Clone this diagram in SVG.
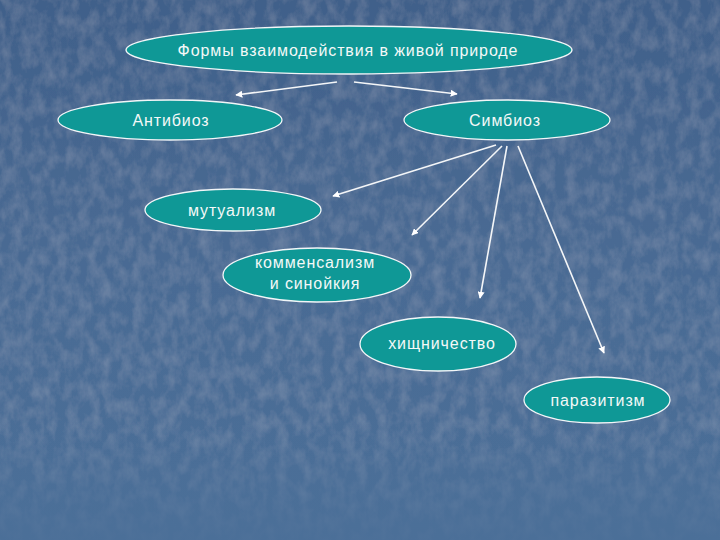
<svg xmlns="http://www.w3.org/2000/svg" width="720" height="540" viewBox="0 0 720 540">
<defs>
<linearGradient id="bg" x1="0" y1="0" x2="0" y2="1">
<stop offset="0" stop-color="#40608a"/>
<stop offset="0.5" stop-color="#4a6b94"/>
<stop offset="1" stop-color="#4b6f98"/>
</linearGradient>
<linearGradient id="fade" x1="0" y1="0" x2="0" y2="1">
<stop offset="0" stop-color="#4b6f98" stop-opacity="0"/>
<stop offset="1" stop-color="#4b6f98" stop-opacity="0.9"/>
</linearGradient>
<filter id="tex" x="0" y="0" width="100%" height="100%">
<feTurbulence type="fractalNoise" baseFrequency="0.09 0.06" numOctaves="4" seed="7" result="n"/>
<feColorMatrix in="n" type="matrix" values="0 0 0 0 0.7  0 0 0 0 0.76  0 0 0 0 0.86  0 0 0 0.22 -0.08" result="c"/>
<feComposite in="c" in2="SourceGraphic" operator="over"/>
</filter>
<marker id="ah" viewBox="0 0 10 10" refX="9" refY="5" markerWidth="7" markerHeight="7" markerUnits="userSpaceOnUse" orient="auto">
<path d="M0,0 L10,5 L0,10 z" fill="#ffffff"/>
</marker>
<style>
.node ellipse{fill:#0f9896;stroke:#f2f6f8;stroke-width:1.3}
.node text{font-family:"Liberation Sans",Arial,sans-serif;font-size:16px;letter-spacing:0.9px;fill:#f4f8f8;text-anchor:middle}
#connectors line{stroke:#f4f6f8;stroke-width:1.6;marker-end:url(#ah)}
</style>
</defs>
<rect width="720" height="540" fill="url(#bg)" filter="url(#tex)"/>
<rect y="420" width="720" height="120" fill="url(#fade)"/>
<g id="connectors">
<line x1="337" y1="82" x2="236" y2="95"/>
<line x1="354" y1="82" x2="457" y2="94"/>
<line x1="496" y1="145" x2="333" y2="196"/>
<line x1="502" y1="146" x2="412" y2="235"/>
<line x1="507" y1="146" x2="480" y2="298"/>
<line x1="518" y1="146" x2="604" y2="353"/>
</g>
<g id="node-forms" class="node">
<ellipse cx="349" cy="50" rx="223" ry="24"/>
<text x="348" y="56">Формы взаимодействия в живой природе</text>
</g>
<g id="node-antibioz" class="node">
<ellipse cx="170" cy="120" rx="112" ry="20"/>
<text x="171" y="126">Антибиоз</text>
</g>
<g id="node-symbioz" class="node">
<ellipse cx="507" cy="120" rx="103" ry="20"/>
<text x="505" y="126">Симбиоз</text>
</g>
<g id="node-mutualism" class="node">
<ellipse cx="233" cy="210" rx="88" ry="21"/>
<text x="232" y="216">мутуализм</text>
</g>
<g id="node-commensalism" class="node">
<ellipse cx="317" cy="275" rx="94" ry="27"/>
<text x="315" y="268">комменсализм</text>
<text x="315" y="289">и синойкия</text>
</g>
<g id="node-predation" class="node">
<ellipse cx="438" cy="344" rx="78" ry="27"/>
<text x="442" y="349">хищничество</text>
</g>
<g id="node-parasitism" class="node">
<ellipse cx="597" cy="400" rx="73" ry="23"/>
<text x="598" y="406">паразитизм</text>
</g>
</svg>
